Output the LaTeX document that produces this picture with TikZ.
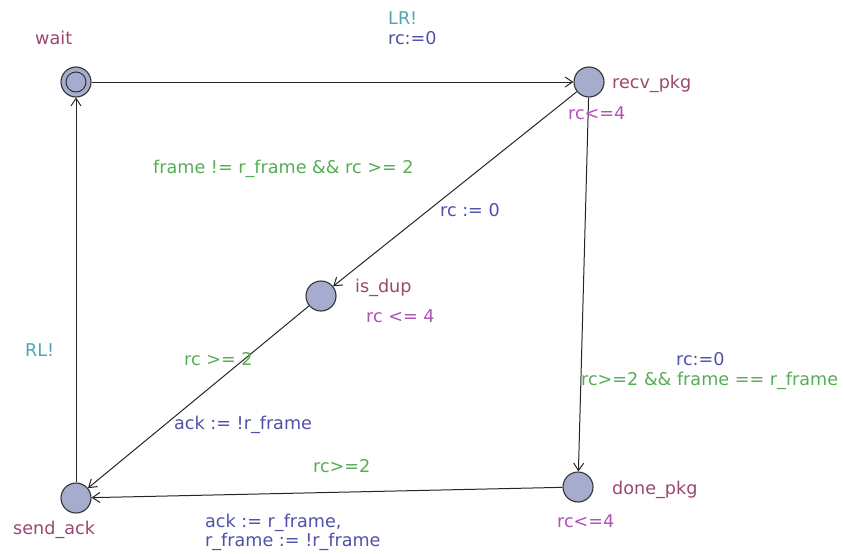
\documentclass[tikz,border=0pt]{standalone}
\usepackage{fontspec}
\setmainfont{DejaVu Sans}
\usetikzlibrary{arrows.meta}
\definecolor{namec}{HTML}{9A4870}
\definecolor{invc}{HTML}{B050B8}
\definecolor{guardc}{HTML}{55AD55}
\definecolor{updc}{HTML}{5050A8}
\definecolor{syncc}{HTML}{4FA8B0}
\definecolor{locfill}{HTML}{A5ACCD}
\tikzset{
  loc/.style={circle,draw=black!80,fill=locfill,line width=1.1pt,minimum size=30pt,inner sep=0pt},
  lbl/.style={anchor=base west,inner sep=0pt,font=\fontsize{17.6}{19}\selectfont},
  namelbl/.style={lbl,text=namec},
  invlbl/.style={lbl,text=invc},
  guardlbl/.style={lbl,text=guardc},
  updlbl/.style={lbl,text=updc},
  synclbl/.style={lbl,text=syncc},
  edge/.style={draw=black!85,line width=1pt,-{Straight Barb[length=7.5pt,width=10pt]}}
}
\begin{document}
\begin{tikzpicture}[x=1pt,y=-1pt]
\useasboundingbox (0,0) rectangle (844,554);
% locations
\node[loc] (wait) at (76,82) {};
\node[circle,draw=black!80,line width=1pt,minimum size=20pt,inner sep=0pt] (waitin) at (76,82) {};
\node[loc] (recv) at (589,82) {};
\node[loc] (dup) at (321,296) {};
\node[loc] (send) at (76,498) {};
\node[loc] (done) at (578,487) {};
% edges
\draw[edge] (wait) -- (recv);
\draw[edge] (recv) -- (dup);
\draw[edge] (dup) -- (send);
\draw[edge] (recv) -- (done);
\draw[edge] (done) -- (send);
\draw[edge] (send) -- (wait);
% location labels
\node[namelbl] (nwait) at (35,45) {wait};
\node[namelbl] (nrecv) at (612,88) {recv\_pkg};
\node[invlbl] (irecv) at (568,119) {rc<=4};
\node[namelbl] (ndup) at (355,292) {is\_dup};
\node[invlbl] (idup) at (366,322) {rc <= 4};
\node[namelbl] (ndone) at (612,494) {done\_pkg};
\node[invlbl] (idone) at (557,527) {rc<=4};
\node[namelbl] (nsend) at (13,534) {send\_ack};
% edge labels
\node[synclbl] (s1) at (388,24) {LR!};
\node[updlbl] (u1) at (388,45) {rc:=0};
\node[guardlbl] (g2) at (153,173) {frame != r\_frame \&\& rc >= 2};
\node[updlbl] (u2) at (440,216) {rc := 0};
\node[guardlbl] (g3) at (184,365) {rc >= 2};
\node[updlbl] (u3) at (174,429) {ack := !r\_frame};
\node[updlbl] (u4) at (676,365) {rc:=0};
\node[guardlbl] (g4) at (581,385) {rc>=2 \&\& frame == r\_frame};
\node[guardlbl] (g5) at (313,472) {rc>=2};
\node[updlbl] (u5a) at (205,527) {ack := r\_frame,};
\node[updlbl] (u5b) at (205,546) {r\_frame := !r\_frame};
\node[synclbl] (s6) at (25,356) {RL!};
\end{tikzpicture}
\end{document}
